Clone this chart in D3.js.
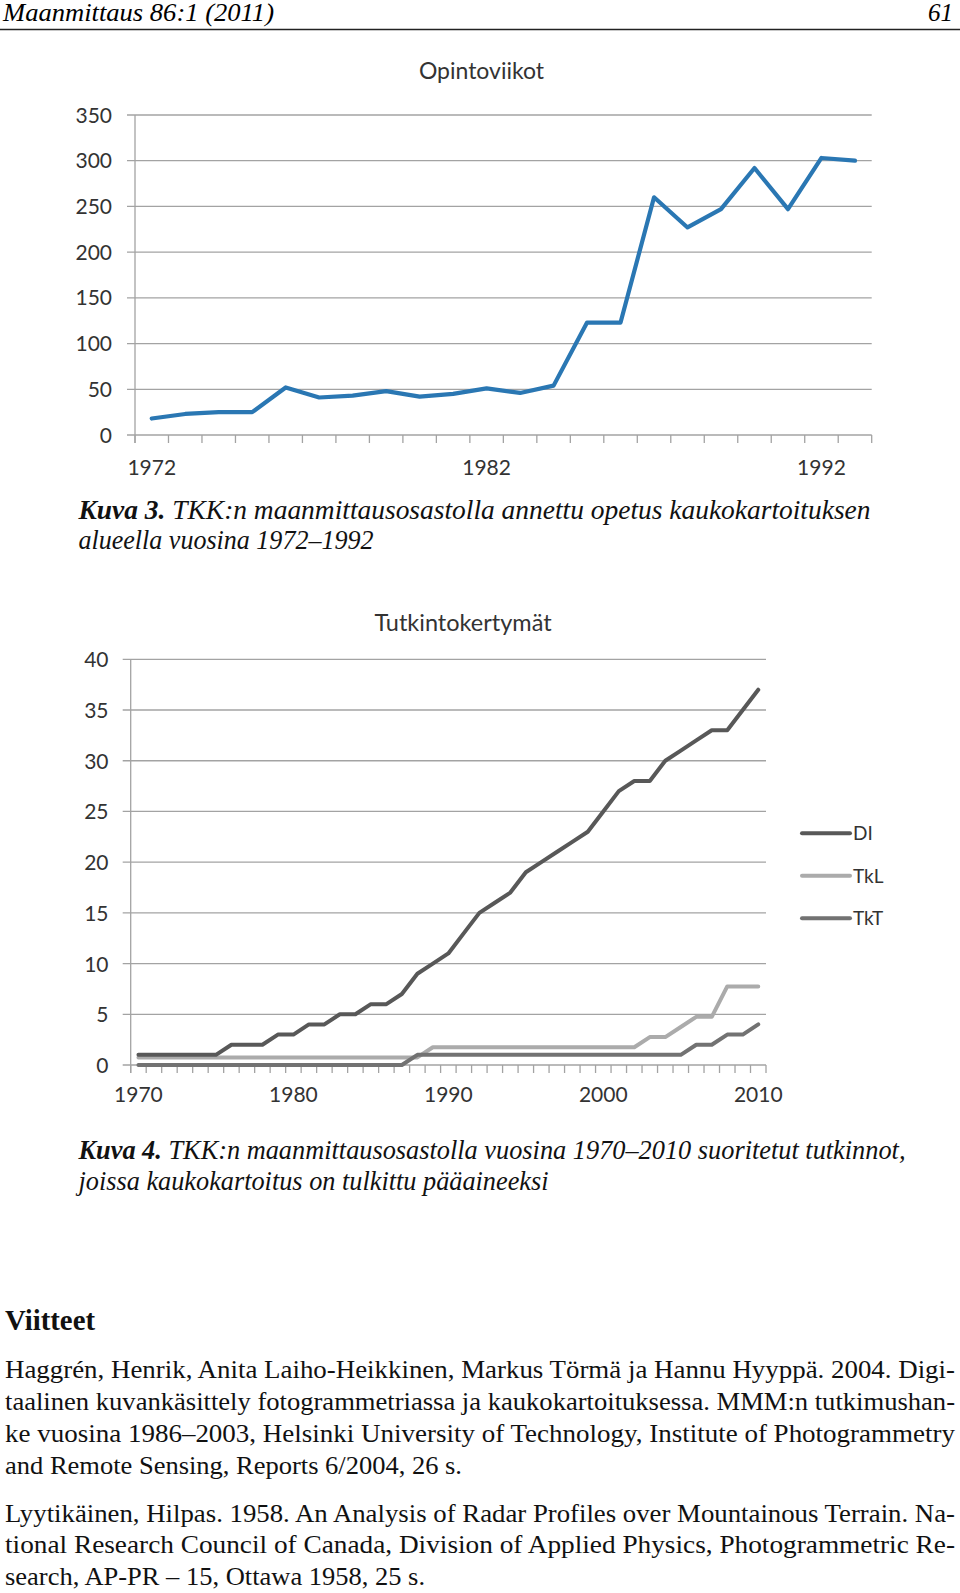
<!DOCTYPE html>
<html><head><meta charset="utf-8">
<script src="https://cdn.jsdelivr.net/npm/d3@7"></script>
<style>
html,body{margin:0;padding:0;background:#fff;}
svg{display:block;}
.serif{font-family:"Liberation Serif","Tinos","Times New Roman","Nimbus Roman",Times,serif;}
.sans{font-family:Lato,"Open Sans",sans-serif;}
</style></head>
<body>
<script>
// ---- Data: Chart 1 (Opintoviikot) ----
const years1 = [1972,1973,1974,1975,1976,1977,1978,1979,1980,1981,1982,1983,1984,1985,1986,1987,1988,1989,1990,1991,1992,1993];
const opintoviikot = [18,23,25,25,52,41,43,48,42,45,51,46,54,123,123,260,227,247,292,247,303,300];
const yTicks1 = [0,50,100,150,200,250,300,350];
const xLabels1 = [1972,1982,1992];

// ---- Data: Chart 2 (Tutkintokertymät) ----
const years2 = d3.range(1970, 2011);
const DI  = [1,1,1,1,1,1,2,2,2,3,3,4,4,5,5,6,6,7,9,10,11,13,15,16,17,19,20,21,22,23,25,27,28,28,30,31,32,33,33,35,37];
const TkL = [0.75,0.75,0.75,0.75,0.75,0.75,0.75,0.75,0.75,0.75,0.75,0.75,0.75,0.75,0.75,0.75,0.75,0.75,0.75,
             1.75,1.75,1.75,1.75,1.75,1.75,1.75,1.75,1.75,1.75,1.75,1.75,1.75,1.75,
             2.75,2.75,3.75,4.75,4.75,7.75,7.75,7.75];
const TkT = [0,0,0,0,0,0,0,0,0,0,0,0,0,0,0,0,0,0,
             1,1,1,1,1,1,1,1,1,1,1,1,1,1,1,1,1,1,
             2,2,3,3,4];
const seriesNames = ["DI","TkL","TkT"];
const yTicks2 = [0,5,10,15,20,25,30,35,40];
const xLabels2 = [1970,1980,1990,2000,2010];

const W = 960, H = 1593;
const svg = d3.select("body").append("svg").attr("width", W).attr("height", H);

const gridColor = "#a3a3a3";

// ---- Header ----
svg.append("text").attr("class", "serif").attr("x", 3).attr("y", 21)
  .attr("font-style", "italic").attr("font-size", 25)
  .attr("textLength", 271).attr("lengthAdjust", "spacingAndGlyphs")
  .text("Maanmittaus 86:1 (2011)");
svg.append("text").attr("class", "serif").attr("x", 953).attr("y", 21).attr("text-anchor", "end")
  .attr("font-style", "italic").attr("font-size", 25)
  .text("61");
svg.append("line").attr("x1", 0).attr("x2", 960).attr("y1", 29.5).attr("y2", 29.5)
  .attr("stroke", "#222").attr("stroke-width", 1.5);

// ---- Chart helper ----
function drawChart(cfg) {
  const g = svg.append("g");
  const x = d3.scaleBand().domain(cfg.years).range([cfg.x0, cfg.x1]).padding(0);
  const y = d3.scaleLinear().domain(cfg.yDomain).range([cfg.yb, cfg.yt]);
  const bw = x.bandwidth();
  const cx = d => x(d) + bw / 2;

  cfg.yTicks.forEach(t => {
    g.append("line").attr("x1", cfg.x0 - cfg.tickLen).attr("x2", cfg.x1)
      .attr("y1", y(t)).attr("y2", y(t))
      .attr("stroke", gridColor).attr("stroke-width", 1.3);
    g.append("text").attr("class", "sans").attr("x", cfg.yLabelX).attr("y", y(t) + cfg.yLabelDy)
      .attr("text-anchor", "end")
      .attr("font-size", cfg.fs).attr("fill", "#333").text(t);
  });
  g.append("line").attr("x1", cfg.x0).attr("x2", cfg.x0).attr("y1", y(cfg.yDomain[1])).attr("y2", y(0) + cfg.tickLen)
    .attr("stroke", gridColor).attr("stroke-width", 1.3);
  const bounds = cfg.years.map(d => x(d)).concat([cfg.x1]);
  bounds.forEach(b => {
    g.append("line").attr("x1", b).attr("x2", b).attr("y1", y(0)).attr("y2", y(0) + cfg.tickLen)
      .attr("stroke", gridColor).attr("stroke-width", 1.3);
  });
  cfg.xLabels.forEach(l => {
    g.append("text").attr("class", "sans").attr("x", cx(l)).attr("y", cfg.xLabelY).attr("text-anchor", "middle")
      .attr("font-size", cfg.fs).attr("fill", "#333").text(l);
  });
  g.append("text").attr("class", "sans").attr("x", cfg.titleX).attr("y", cfg.titleY).attr("text-anchor", "middle")
    .attr("font-size", cfg.titleFs).attr("fill", "#333").text(cfg.title);
  cfg.series.forEach(s => {
    const line = d3.line().x((d, i) => cx(cfg.years[i])).y(d => y(d));
    g.append("path").datum(s.values).attr("d", line)
      .attr("fill", "none").attr("stroke", s.color).attr("stroke-width", cfg.sw)
      .attr("stroke-linejoin", "round").attr("stroke-linecap", "round");
  });
  return {x, y};
}

drawChart({
  years: years1, x0: 135, x1: 871.7, yt: 115, yb: 435, yDomain: [0, 350],
  yTicks: yTicks1, xLabels: xLabels1, tickLen: 8, fs: 21,
  yLabelX: 112, yLabelDy: 7.5, xLabelY: 475,
  title: "Opintoviikot", titleX: 481.5, titleY: 78.5, titleFs: 23, sw: 4.2,
  series: [{name: "Opintoviikot", values: opintoviikot, color: "#2a77b3"}]
});

const colors2 = {DI: "#585858", TkL: "#ababab", TkT: "#727272"};
drawChart({
  years: years2, x0: 130.7, x1: 766, yt: 659.3, yb: 1065, yDomain: [0, 40],
  yTicks: yTicks2, xLabels: xLabels2, tickLen: 8, fs: 21,
  yLabelX: 108.5, yLabelDy: 8, xLabelY: 1101.5,
  title: "Tutkintokertymät", titleX: 463, titleY: 630.5, titleFs: 23.5, sw: 4,
  series: [
    {name: "TkL", values: TkL, color: colors2.TkL},
    {name: "TkT", values: TkT, color: colors2.TkT},
    {name: "DI", values: DI, color: colors2.DI}
  ]
});

const legY = d3.scalePoint().domain(seriesNames).range([833.3, 918.3]);
seriesNames.forEach(n => {
  svg.append("line").attr("x1", 802).attr("x2", 850).attr("y1", legY(n)).attr("y2", legY(n))
    .attr("stroke", colors2[n]).attr("stroke-width", 4).attr("stroke-linecap", "round");
  svg.append("text").attr("class", "sans").attr("x", 853).attr("y", legY(n) + 7)
    .attr("font-size", 19).attr("fill", "#333").text(n);
});

// ---- Captions ----
function caption(xp, yp, len, parts) {
  const t = svg.append("text").attr("class", "serif").attr("x", xp).attr("y", yp)
    .attr("font-size", 28).attr("font-style", "italic").attr("fill", "#111");
  if (len) t.attr("textLength", len).attr("lengthAdjust", "spacingAndGlyphs");
  parts.forEach(p => {
    const ts = t.append("tspan").text(p.t);
    if (p.b) ts.attr("font-weight", "bold");
  });
}
caption(78.5, 518.5, 792, [{t: "Kuva 3.", b: true}, {t: " TKK:n maanmittausosastolla annettu opetus kaukokartoituksen"}]);
caption(78.5, 549, 295, [{t: "alueella vuosina 1972–1992"}]);
caption(78.5, 1159, 827, [{t: "Kuva 4.", b: true}, {t: " TKK:n maanmittausosastolla vuosina 1970–2010 suoritetut tutkinnot,"}]);
caption(78.5, 1189.5, 470, [{t: "joissa kaukokartoitus on tulkittu pääaineeksi"}]);

// ---- References ----
svg.append("text").attr("class", "serif").attr("x", 5).attr("y", 1330)
  .attr("font-weight", "bold").attr("font-size", 30).attr("fill", "#111")
  .attr("textLength", 90).attr("lengthAdjust", "spacingAndGlyphs").text("Viitteet");

const refLines = [
  {t: "Haggrén, Henrik, Anita Laiho-Heikkinen, Markus Törmä ja Hannu Hyyppä. 2004. Digi-", y: 1377.5, w: 950},
  {t: "taalinen kuvankäsittely fotogrammetriassa ja kaukokartoituksessa. MMM:n tutkimushan-", y: 1409.5, w: 950},
  {t: "ke vuosina 1986–2003, Helsinki University of Technology, Institute of Photogrammetry", y: 1441.5, w: 950},
  {t: "and Remote Sensing, Reports 6/2004, 26 s.", y: 1473.5, w: 457},
  {t: "Lyytikäinen, Hilpas. 1958. An Analysis of Radar Profiles over Mountainous Terrain. Na-", y: 1521.5, w: 950},
  {t: "tional Research Council of Canada, Division of Applied Physics, Photogrammetric Re-", y: 1553, w: 950},
  {t: "search, AP-PR – 15, Ottawa 1958, 25 s.", y: 1584.5, w: 420}
];
refLines.forEach(r => {
  svg.append("text").attr("class", "serif").attr("x", 5).attr("y", r.y)
    .attr("font-size", 25).attr("fill", "#111")
    .attr("textLength", r.w).attr("lengthAdjust", "spacingAndGlyphs").text(r.t);
});
</script>
</body></html>
